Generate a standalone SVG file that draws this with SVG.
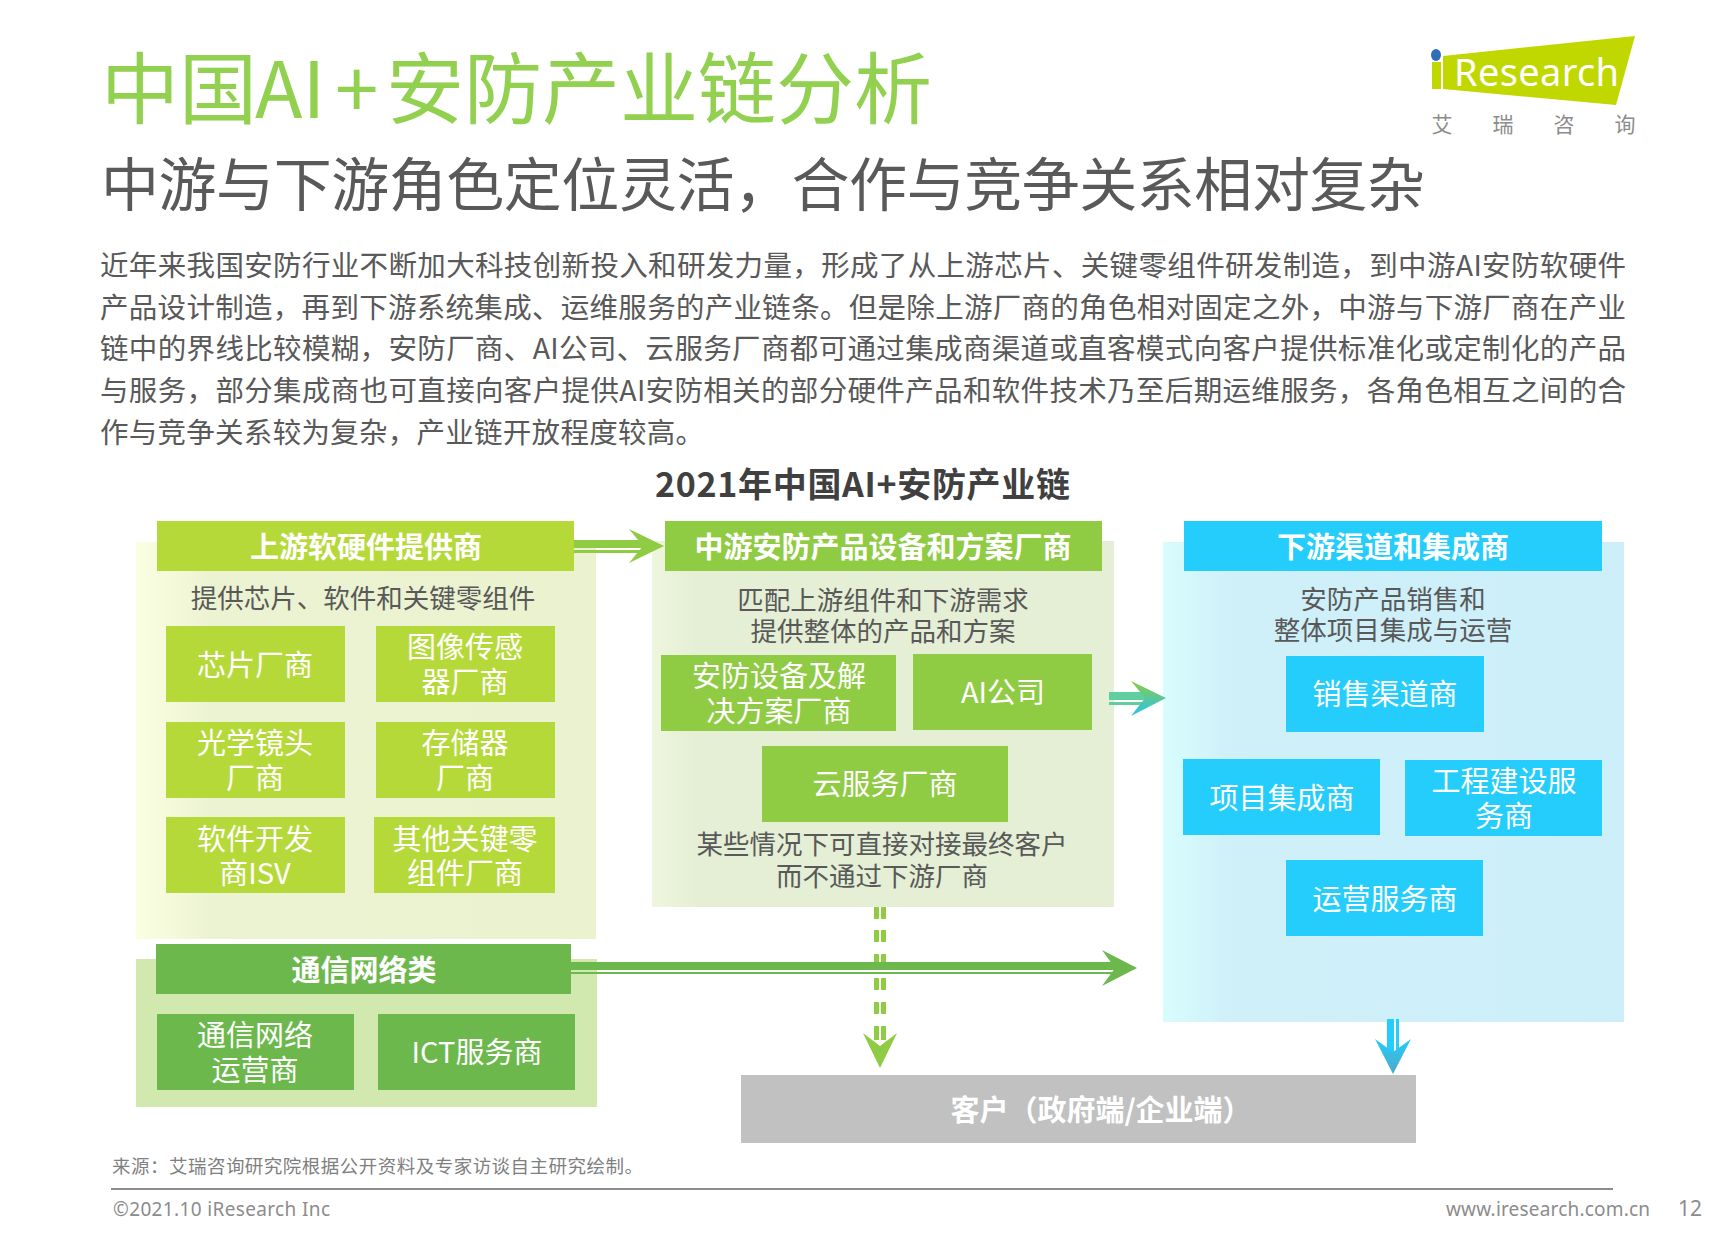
<svg xmlns="http://www.w3.org/2000/svg" width="1726" height="1238" viewBox="0 0 1726 1238">
<style>
text{font-family:"Noto Sans CJK SC","Noto Sans",sans-serif}
.lat{font-family:"Noto Sans","Noto Sans CJK SC",sans-serif}
.m{text-anchor:middle}
.hd{font-size:29px;font-weight:700;fill:#fff;text-anchor:middle}
.bx{font-size:29px;fill:#fff;text-anchor:middle}
.ds{font-size:26.5px;fill:#595959;text-anchor:middle}
.body{font-size:28.5px;fill:#595959}
.yg{fill:#b6d93a}.gr{fill:#8fcb43}.dg{fill:#6cb84c}.bl{fill:#24cdfb}
</style>
<defs>
<linearGradient id="pu" x1="0" x2="1" y1="0" y2="0"><stop offset="0" stop-color="#fbffe2"/><stop offset=".16" stop-color="#ecf3d2"/><stop offset="1" stop-color="#eaf2d0"/></linearGradient>
<linearGradient id="pm" x1="0" x2="1" y1="0" y2="0"><stop offset="0" stop-color="#eef6de"/><stop offset=".1" stop-color="#e4efd5"/><stop offset="1" stop-color="#e4efd5"/></linearGradient>
<linearGradient id="pd" x1="0" x2="1" y1="0" y2="0"><stop offset="0" stop-color="#d8fdfd"/><stop offset=".14" stop-color="#cff0f9"/><stop offset="1" stop-color="#cdeff9"/></linearGradient>
<linearGradient id="mid" x1="0" x2="0" y1="0" y2="1"><stop offset="0" stop-color="#8fcb43"/><stop offset="1" stop-color="#24c4f0"/></linearGradient>
<linearGradient id="dn" x1="0" x2="0" y1="0" y2="1"><stop offset="0" stop-color="#24cdfb"/><stop offset="1" stop-color="#4ea8c8"/></linearGradient>
</defs>
<rect width="1726" height="1238" fill="#fff"/>
<g id="heading">
<text y="118" font-size="78" fill="#92d050"><tspan x="101">中国</tspan><tspan x="255">AI</tspan><tspan x="335">+</tspan><tspan x="386">安防产业链分析</tspan></text>
<text x="101" y="206" font-size="58" fill="#595959" textLength="1324" lengthAdjust="spacing">中游与下游角色定位灵活，合作与竞争关系相对复杂</text>
</g>
<g id="logo">
<polygon points="1443,56 1635,36 1616,105 1443,89" fill="#c0d800"/>
<rect x="1432" y="62" width="9" height="27" fill="#c0d800"/>
<ellipse cx="1436" cy="55" rx="5" ry="6" fill="#2f6fb7"/>
<text x="1454" y="86" font-size="38" fill="#fff" class="lat" textLength="165">Research</text>
<g font-size="21" fill="#8c8c8c" class="m"><text x="1442" y="132">艾</text><text x="1503" y="132">瑞</text><text x="1564" y="132">咨</text><text x="1625" y="132">询</text></g>
</g>
<g id="intro" class="body">
<text x="100" y="276" textLength="1526">近年来我国安防行业不断加大科技创新投入和研发力量，形成了从上游芯片、关键零组件研发制造，到中游AI安防软硬件</text>
<text x="100" y="318" textLength="1526">产品设计制造，再到下游系统集成、运维服务的产业链条。但是除上游厂商的角色相对固定之外，中游与下游厂商在产业</text>
<text x="100" y="359" textLength="1526">链中的界线比较模糊，安防厂商、AI公司、云服务厂商都可通过集成商渠道或直客模式向客户提供标准化或定制化的产品</text>
<text x="100" y="401" textLength="1526">与服务，部分集成商也可直接向客户提供AI安防相关的部分硬件产品和软件技术乃至后期运维服务，各角色相互之间的合</text>
<text x="100" y="443" textLength="604">作与竞争关系较为复杂，产业链开放程度较高。</text>
</g>
<text id="chart-title" x="655" y="497" font-size="34" font-weight="700" fill="#404040" textLength="415">2021年中国AI+安防产业链</text>
<g id="upstream">
<rect x="136" y="542" width="460" height="397" fill="url(#pu)"/>
<rect class="yg" x="157" y="521" width="417" height="50"/>
<text class="hd" x="366" y="558">上游软硬件提供商</text>
<text class="ds" x="363" y="608">提供芯片、软件和关键零组件</text>
<g id="u1"><rect class="yg" x="166" y="626" width="179" height="76"/><text class="bx" x="255" y="676">芯片厂商</text></g>
<g id="u2"><rect class="yg" x="376" y="626" width="179" height="76"/><text class="bx" x="465" y="658">图像传感</text><text class="bx" x="465" y="693">器厂商</text></g>
<g id="u3"><rect class="yg" x="166" y="722" width="179" height="76"/><text class="bx" x="255" y="754">光学镜头</text><text class="bx" x="255" y="789">厂商</text></g>
<g id="u4"><rect class="yg" x="376" y="722" width="179" height="76"/><text class="bx" x="465" y="754">存储器</text><text class="bx" x="465" y="789">厂商</text></g>
<g id="u5"><rect class="yg" x="166" y="817" width="179" height="76"/><text class="bx" x="255" y="850">软件开发</text><text class="bx" x="255" y="884">商ISV</text></g>
<g id="u6"><rect class="yg" x="374" y="817" width="181" height="76"/><text class="bx" x="465" y="850">其他关键零</text><text class="bx" x="465" y="884">组件厂商</text></g>
</g>
<g id="midstream">
<rect x="652" y="541" width="462" height="366" fill="url(#pm)"/>
<rect class="gr" x="665" y="521" width="437" height="50"/>
<text class="hd" x="883" y="558">中游安防产品设备和方案厂商</text>
<text class="ds" x="883" y="610">匹配上游组件和下游需求</text>
<text class="ds" x="883" y="641">提供整体的产品和方案</text>
<g id="m1"><rect class="gr" x="661" y="655" width="235" height="76"/><text class="bx" x="779" y="687">安防设备及解</text><text class="bx" x="779" y="722">决方案厂商</text></g>
<g id="m2"><rect class="gr" x="913" y="654" width="179" height="76"/><text class="bx" x="1003" y="703">AI公司</text></g>
<g id="m3"><rect class="gr" x="762" y="746" width="246" height="76"/><text class="bx" x="885" y="795">云服务厂商</text></g>
<text class="ds" x="882" y="854">某些情况下可直接对接最终客户</text>
<text class="ds" x="882" y="886">而不通过下游厂商</text>
</g>
<g id="downstream">
<rect x="1163" y="542" width="461" height="480" fill="url(#pd)"/>
<rect class="bl" x="1184" y="521" width="418" height="50"/>
<text class="hd" x="1393" y="558">下游渠道和集成商</text>
<text class="ds" x="1393" y="609">安防产品销售和</text>
<text class="ds" x="1393" y="640">整体项目集成与运营</text>
<g id="d1"><rect class="bl" x="1286" y="656" width="198" height="76"/><text class="bx" x="1385" y="705">销售渠道商</text></g>
<g id="d2"><rect class="bl" x="1183" y="759" width="197" height="76"/><text class="bx" x="1282" y="809">项目集成商</text></g>
<g id="d3"><rect class="bl" x="1405" y="760" width="197" height="76"/><text class="bx" x="1504" y="792">工程建设服</text><text class="bx" x="1504" y="827">务商</text></g>
<g id="d4"><rect class="bl" x="1286" y="860" width="197" height="76"/><text class="bx" x="1385" y="910">运营服务商</text></g>
</g>
<g id="network">
<rect x="136" y="959" width="461" height="148" fill="#d1e8ae"/>
<rect class="dg" x="156" y="944" width="415" height="50"/>
<text class="hd" x="364" y="981">通信网络类</text>
<g id="n1"><rect class="dg" x="157" y="1014" width="197" height="76"/><text class="bx" x="255" y="1046">通信网络</text><text class="bx" x="255" y="1081">运营商</text></g>
<g id="n2"><rect class="dg" x="378" y="1014" width="197" height="76"/><text class="bx" x="477" y="1063">ICT服务商</text></g>
</g>
<g id="connectors">
<path d="M574 540h76v8h-76zM574 550h76v3h-76z" fill="#8fcb43"/>
<polygon points="629,529 664,546 629,563 643,546" fill="#8fcb43"/>
<path d="M1109 692h42v8h-42zM1109 702h42v3h-42z" fill="#5fcfa0"/>
<polygon points="1131,681 1166,698 1131,716 1145,698" fill="url(#mid)"/>
<path d="M571 962h550v8h-550zM571 972h550v2h-550z" fill="#6cb84c"/>
<polygon points="1102,950 1137,968 1102,986 1115,968" fill="#6cb84c"/>
<g fill="#8fcb43"><rect x="874" y="907" width="5" height="12"/><rect x="881" y="907" width="5" height="12"/><rect x="874" y="930" width="5" height="12"/><rect x="881" y="930" width="5" height="12"/><rect x="874" y="954" width="5" height="8"/><rect x="881" y="954" width="5" height="8"/><rect x="874" y="978" width="5" height="12"/><rect x="881" y="978" width="5" height="12"/><rect x="874" y="1002" width="5" height="12"/><rect x="881" y="1002" width="5" height="12"/><rect x="874" y="1026" width="5" height="14"/><rect x="881" y="1026" width="5" height="14"/>
<polygon points="863,1033 880,1046 897,1033 880,1068"/></g>
<path d="M1387 1019h7v40h-7zM1396 1019h3v40h-3z" fill="#24cdfb"/>
<polygon points="1375,1039 1393,1052 1411,1039 1393,1074" fill="url(#dn)"/>
</g>
<g id="customer">
<rect x="741" y="1075" width="675" height="68" fill="#c1c1c1"/>
<text x="1101" y="1121" font-size="29" font-weight="700" fill="#fff" class="m">客户（政府端/企业端）</text>
</g>
<g id="footer">
<text x="112" y="1173" font-size="18.5" fill="#7f7f7f" textLength="531">来源：艾瑞咨询研究院根据公开资料及专家访谈自主研究绘制。</text>
<rect x="111" y="1188" width="1502" height="2" fill="#8c8c8c"/>
<text x="113" y="1216" font-size="19" fill="#8c8c8c" class="lat" textLength="217">©2021.10 iResearch Inc</text>
<text x="1446" y="1216" font-size="19" fill="#8c8c8c" class="lat" textLength="204">www.iresearch.com.cn</text>
<text x="1678" y="1216" font-size="21" fill="#8c8c8c" class="lat">12</text>
</g>
</svg>
